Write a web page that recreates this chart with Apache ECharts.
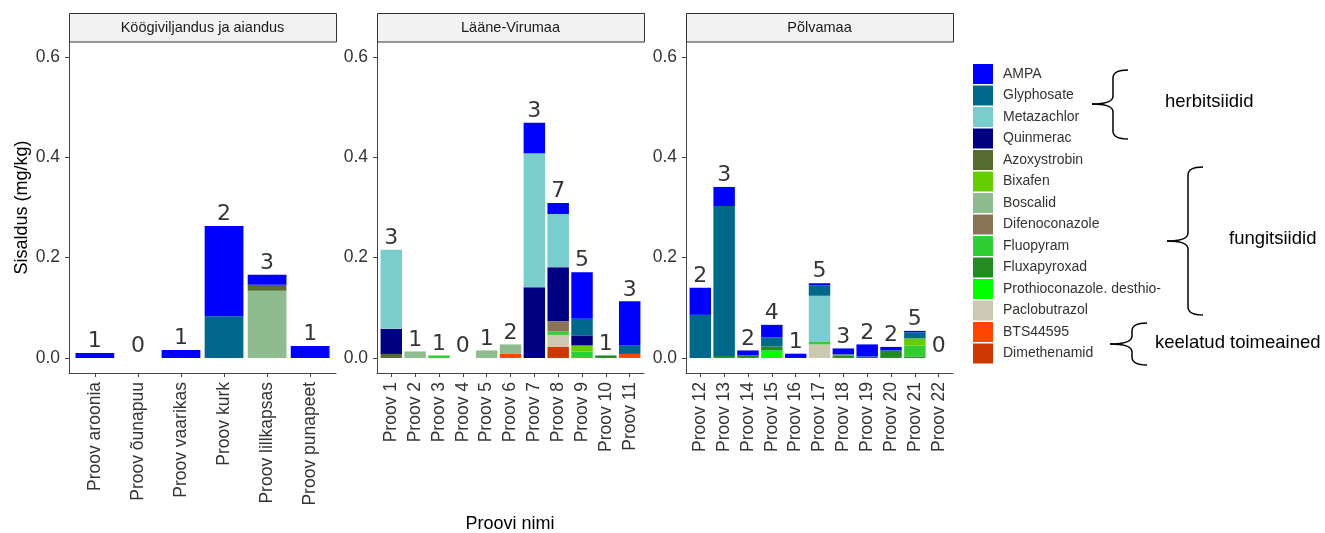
<!DOCTYPE html>
<html><head><meta charset="utf-8">
<script src="https://cdn.jsdelivr.net/npm/echarts@6/dist/echarts.min.js"></script>
<style>html,body{margin:0;padding:0;background:#fff}#c{width:1325px;height:533px}</style>
</head><body><div id="c"></div>
<script>
// ---------- DATA ----------
const panelTitles = ['Köögiviljandus ja aiandus', 'Lääne-Virumaa', 'Põlvamaa'];
const catsKA = ['Proov aroonia', 'Proov õunapuu', 'Proov vaarikas', 'Proov kurk', 'Proov lillkapsas', 'Proov punapeet'];
const catsLV = ['Proov 1', 'Proov 2', 'Proov 3', 'Proov 4', 'Proov 5', 'Proov 6', 'Proov 7', 'Proov 8', 'Proov 9', 'Proov 10', 'Proov 11'];
const catsPV = ['Proov 12', 'Proov 13', 'Proov 14', 'Proov 15', 'Proov 16', 'Proov 17', 'Proov 18', 'Proov 19', 'Proov 20', 'Proov 21', 'Proov 22'];
const yTicks = [0, 0.2, 0.4, 0.6];
const substances = ['AMPA', 'Glyphosate', 'Metazachlor', 'Quinmerac', 'Azoxystrobin', 'Bixafen', 'Boscalid',
  'Difenoconazole', 'Fluopyram', 'Fluxapyroxad', 'Prothioconazole. desthio-', 'Paclobutrazol', 'BTS44595', 'Dimethenamid'];
const colors = ['#0000FF', '#00688B', '#79CDCD', '#000080', '#556B2F', '#66CD00', '#8FBC8F',
  '#8B7355', '#32CD32', '#228B22', '#00FF00', '#CDC8B1', '#FF4500', '#CD3700'];
// values (mg/kg) per sample: 6 x KA, 11 x LV (Proov 1-11), 11 x PV (Proov 12-22)
const AMPA =           [0.010,0,0.016,0.180,0.020,0.024, 0,0,0,0,0,0,0.061,0.022,0.093,0,0.088, 0.054,0.038,0.010,0.025,0.0085,0.004,0.012,0.024,0.007,0.003,0];
const Glyphosate =     [0,0,0,0.083,0,0, 0,0,0,0,0,0,0,0,0.033,0,0.017, 0.086,0.299,0,0.018,0,0.021,0,0.003,0,0.012,0];
const Metazachlor =    [0,0,0,0,0,0, 0.158,0,0,0,0,0,0.267,0.106,0,0,0, 0,0,0,0,0,0.092,0,0,0,0,0];
const Quinmerac =      [0,0,0,0,0,0, 0.050,0,0,0,0,0,0.141,0.108,0.020,0,0, 0,0,0,0,0,0,0,0,0,0,0];
const Azoxystrobin =   [0,0,0,0,0.012,0, 0.008,0,0,0,0,0,0,0,0,0,0, 0,0,0,0,0,0,0,0,0,0,0];
const Bixafen =        [0,0,0,0,0,0, 0,0,0,0,0,0,0,0,0.012,0,0, 0,0,0,0,0,0,0,0,0,0.014,0];
const Boscalid =       [0,0,0,0,0.134,0, 0,0.013,0,0,0.015,0.019,0,0,0,0,0, 0,0,0,0,0,0,0,0,0,0,0];
const Difenoconazole = [0,0,0,0,0,0, 0,0,0,0,0,0,0,0.020,0,0,0, 0,0,0,0,0,0,0,0,0,0,0];
const Fluopyram =      [0,0,0,0,0,0, 0,0,0.005,0,0,0,0,0.007,0.013,0,0, 0,0,0,0,0,0.005,0.003,0,0,0.022,0];
const Fluxapyroxad =   [0,0,0,0,0,0, 0,0,0,0,0,0,0,0,0,0.005,0, 0,0.004,0.005,0.008,0,0,0.004,0,0.015,0.003,0];
const Prothioconazole =[0,0,0,0,0,0, 0,0,0,0,0,0,0,0,0,0,0, 0,0,0,0.015,0,0,0,0,0,0,0];
const Paclobutrazol =  [0,0,0,0,0,0, 0,0,0,0,0,0,0,0.024,0,0,0, 0,0,0,0,0,0.027,0,0,0,0,0];
const BTS44595 =       [0,0,0,0,0,0, 0,0,0,0,0,0.008,0,0,0,0,0.008, 0,0,0,0,0,0,0,0,0,0,0];
const Dimethenamid =   [0,0,0,0,0,0, 0,0,0,0,0,0,0,0.022,0,0,0, 0,0,0,0,0,0,0,0,0,0,0];
// number of detected substances (labels above bars)
const countsKA = [1, 0, 1, 2, 3, 1];
const countsLV = [3, 1, 1, 0, 1, 2, 3, 7, 5, 1, 3];
const countsPV = [2, 3, 2, 4, 1, 5, 3, 2, 2, 5, 0];

// ---------- BUILD ----------
const values = [AMPA, Glyphosate, Metazachlor, Quinmerac, Azoxystrobin, Bixafen, Boscalid,
  Difenoconazole, Fluopyram, Fluxapyroxad, Prothioconazole, Paclobutrazol, BTS44595, Dimethenamid];
const panels = [
  { cats: catsKA, start: 0, counts: countsKA },
  { cats: catsLV, start: 6, counts: countsLV },
  { cats: catsPV, start: 17, counts: countsPV }
];
const FONT = 'Liberation Sans, Arial, sans-serif';
const PL = [69, 377, 686], PW = 267, PT = 42, PH = 331;
const YMIN = -0.03, YMAX = 0.63;

const grid = [], xAxis = [], yAxis = [], series = [], graphic = [];
panels.forEach((p, i) => {
  grid.push({ left: PL[i], top: PT, width: PW, height: PH });
  xAxis.push({ type: 'value', gridIndex: i, min: 0, max: 1,
    axisLine: { show: true, onZero: false, lineStyle: { color: '#444', width: 1 } },
    axisTick: { show: false }, axisLabel: { show: false }, splitLine: { show: false } });
  yAxis.push({ type: 'value', gridIndex: i, min: YMIN, max: YMAX,
    name: i === 0 ? 'Sisaldus (mg/kg)' : '', nameLocation: 'middle', nameGap: 38,
    nameTextStyle: { fontFamily: FONT, fontSize: 18, color: '#000' },
    axisLine: { show: true, onZero: false, lineStyle: { color: '#444', width: 1 } },
    axisTick: { show: true, length: 4, customValues: yTicks, lineStyle: { color: '#444' } },
    axisLabel: { customValues: yTicks, formatter: v => v.toFixed(1), margin: 9, fontFamily: FONT, fontSize: 17.5, color: '#333' },
    splitLine: { show: false } });
});
panels.forEach((p, i) => {
  const n = p.cats.length;
  const inset = PW * 0.1 / (n + 0.2);
  const gi = 3 + i;
  grid.push({ left: PL[i] + inset, top: PT, width: PW - 2 * inset, height: PH });
  xAxis.push({ type: 'category', gridIndex: gi, data: p.cats,
    axisLine: { show: false, onZero: false },
    axisTick: { show: true, alignWithLabel: true, length: 4, lineStyle: { color: '#444' } },
    axisLabel: { rotate: 90, margin: 9, fontFamily: FONT, fontSize: 17.5, color: '#333', interval: 0 } });
  yAxis.push({ type: 'value', gridIndex: gi, min: YMIN, max: YMAX, show: false, splitLine: { show: false } });
  for (let s = substances.length - 1; s >= 0; s--) {
    const d = values[s].slice(p.start, p.start + n).map(v => v === 0 ? '-' : v);
    series.push({ type: 'bar', name: substances[s], xAxisIndex: gi, yAxisIndex: gi, stack: 'p' + i,
      barWidth: '90%', data: d, itemStyle: { color: colors[s] }, silent: true });
  }
  const totals = p.cats.map((c, k) => values.reduce((a, arr) => a + arr[p.start + k], 0));
  series.push({ type: 'scatter', xAxisIndex: gi, yAxisIndex: gi, symbolSize: 1, silent: true,
    itemStyle: { color: 'rgba(0,0,0,0)' },
    data: totals.map((t, k) => [k, t, p.counts[k]]),
    label: { show: true, position: 'top', distance: 0, formatter: q => String(q.value[2]),
      fontFamily: 'DejaVu Sans', fontSize: 22, color: '#000' } });
  graphic.push({ type: 'rect', shape: { x: PL[i] + 0.5, y: 13.5, width: PW, height: 28.5 },
    style: { fill: '#F2F2F2', stroke: '#333', lineWidth: 1 }, silent: true });
  graphic.push({ type: 'text', x: PL[i] + PW / 2, y: 28,
    style: { text: panelTitles[i], fontFamily: FONT, fontSize: 14.5, fill: '#1a1a1a', align: 'center', verticalAlign: 'middle' }, silent: true });
});

graphic.push({ type: 'text', x: 510, y: 524, style: { text: 'Proovi nimi', fontFamily: FONT, fontSize: 18, fill: '#000', align: 'center', verticalAlign: 'middle' } });

// braces + group labels
function brace(xe, xs, xt, yt, ym, yb) {
  const r = 8, st = { stroke: '#000', lineWidth: 1.5, fill: null };
  return [
    { type: 'bezierCurve', shape: { x1: xe, y1: yt, cpx1: xs, cpy1: yt, x2: xs, y2: yt + r }, style: st, silent: true },
    { type: 'line', shape: { x1: xs, y1: yt + r, x2: xs, y2: ym - r }, style: st, silent: true },
    { type: 'bezierCurve', shape: { x1: xs, y1: ym - r, cpx1: xs, cpy1: ym, x2: xt, y2: ym }, style: st, silent: true },
    { type: 'bezierCurve', shape: { x1: xt, y1: ym, cpx1: xs, cpy1: ym, x2: xs, y2: ym + r }, style: st, silent: true },
    { type: 'line', shape: { x1: xs, y1: ym + r, x2: xs, y2: yb - r }, style: st, silent: true },
    { type: 'bezierCurve', shape: { x1: xs, y1: yb - r, cpx1: xs, cpy1: yb, x2: xe, y2: yb }, style: st, silent: true }
  ];
}
const braces = [
  { b: brace(1128, 1113, 1092, 70, 104, 139), text: 'herbitsiidid', x: 1165, y: 102 },
  { b: brace(1203, 1188, 1167, 167, 241, 315), text: 'fungitsiidid', x: 1229, y: 239 },
  { b: brace(1147, 1132, 1110, 323, 344, 365), text: 'keelatud toimeained', x: 1155, y: 343 }
];
braces.forEach(b => {
  b.b.forEach(el => graphic.push(el));
  graphic.push({ type: 'text', x: b.x, y: b.y, style: { text: b.text, fontFamily: FONT, fontSize: 18.5, fill: '#000', verticalAlign: 'middle' }, silent: true });
});

const option = {
  animation: false,
  backgroundColor: '#fff',
  grid, xAxis, yAxis, series, graphic,
  legend: {
    data: substances, orient: 'vertical', left: 973, top: 64, padding: 0,
    itemWidth: 20, itemHeight: 20, itemGap: 1.5, icon: 'rect', selectedMode: false,
    textStyle: { fontFamily: FONT, fontSize: 14, color: '#333', padding: [0, 0, 0, 5] }
  }
};
const chart = echarts.init(document.getElementById('c'), null, { renderer: 'canvas' });
chart.setOption(option);
</script></body></html>
